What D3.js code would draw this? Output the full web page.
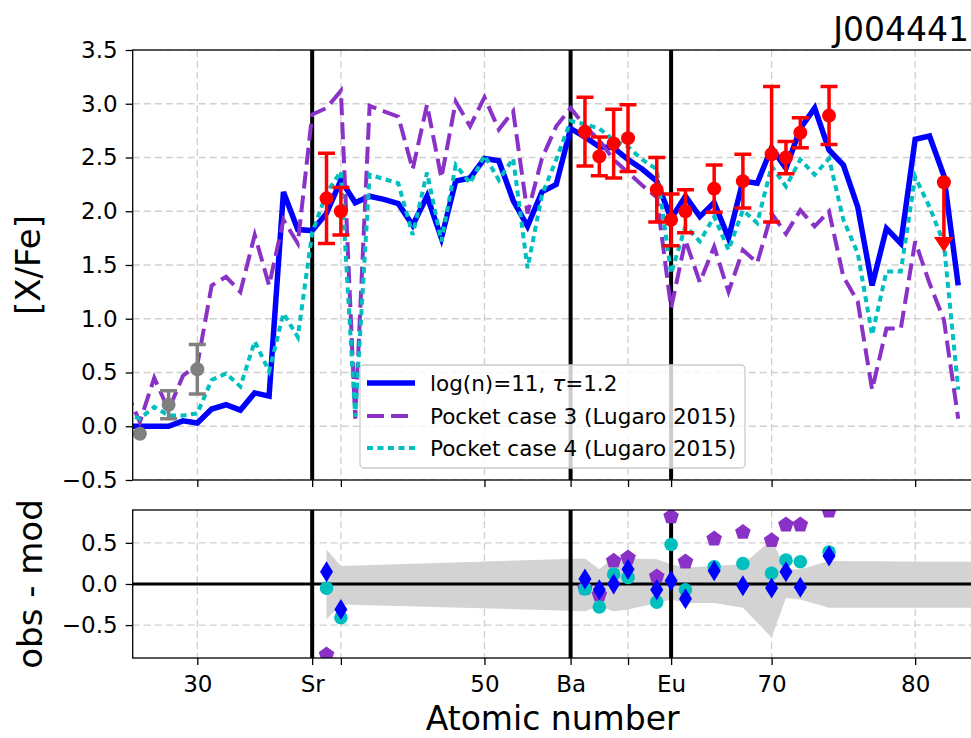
<!DOCTYPE html>
<html>
<head>
<meta charset="utf-8">
<script src="https://cdn.jsdelivr.net/npm/d3@7"></script>
<style>
  body { margin: 0; background: #fff; }
  text { font-family: "DejaVu Sans", sans-serif; fill: #000; }
</style>
</head>
<body>
<svg id="chart" width="971" height="738"></svg>
<script>
// Model predictions, one value per atomic number
var modelZ = [25, 26, 27, 28, 29, 30, 31, 32, 33, 34, 35, 36, 37, 38, 39, 40, 41, 42, 43, 44,
  45, 46, 47, 48, 49, 50, 51, 52, 53, 54, 55, 56, 57, 58, 59, 60, 61, 62, 63, 64,
  65, 66, 67, 68, 69, 70, 71, 72, 73, 74, 75, 76, 77, 78, 79, 80, 81, 82, 83];
var modelBlue = [0.0, 0.0, 0.0, 0.0, 0.05, 0.03, 0.16, 0.2, 0.15, 0.31, 0.28, 2.18, 1.83, 1.82, 1.98, 2.29, 2.08, 2.14, 2.11, 2.07,
  1.87, 2.14, 1.75, 2.28, 2.31, 2.49, 2.47, 2.10, 1.86, 2.18, 2.25, 2.77, 2.69, 2.60, 2.59, 2.48, 2.39, 2.28, 1.93, 2.14,
  1.95, 2.08, 1.75, 2.28, 2.26, 2.59, 2.40, 2.77, 2.96, 2.57, 2.43, 2.04, 1.31, 1.84, 1.70, 2.67, 2.70, 2.33, 1.31];
var modelCase3 = [0.34, 0.04, 0.45, 0.15, 0.47, 0.57, 1.31, 1.39, 1.25, 1.78, 1.31, 1.92, 1.70, 2.90, 2.96, 3.12, 0.07, 2.98, 2.93, 2.88,
  2.39, 2.99, 2.31, 3.02, 2.79, 3.06, 2.76, 2.93, 1.98, 2.49, 2.79, 2.96, 2.79, 2.66, 2.48, 2.36, 2.24, 2.13, 1.10, 1.73,
  1.34, 1.67, 1.25, 1.64, 1.52, 1.98, 1.79, 2.01, 1.86, 2.00, 1.39, 1.16, 0.34, 0.91, 0.91, 1.72, 1.33, 0.99, 0.07];
var modelCase4 = [0.13, 0.07, 0.18, 0.10, 0.10, 0.12, 0.43, 0.49, 0.37, 0.79, 0.51, 1.05, 0.83, 1.80, 2.17, 2.37, 0.09, 2.34, 2.30, 2.26,
  1.78, 2.36, 1.72, 2.43, 2.26, 2.52, 2.29, 2.49, 1.47, 2.15, 2.48, 2.84, 2.81, 2.77, 2.66, 2.60, 2.48, 2.39, 1.42, 1.86,
  1.72, 1.95, 1.64, 2.01, 1.89, 2.42, 2.23, 2.48, 2.34, 2.49, 1.92, 1.61, 0.85, 1.44, 1.44, 2.32, 2.04, 1.70, 0.34];

// Observed abundances used in the fit (red) and not used (grey)
var obsZ = [39, 40, 57, 58, 59, 60, 62, 63, 64, 66, 68, 70, 71, 72, 74];
var obsVal = [2.12, 2.00, 2.74, 2.51, 2.63, 2.68, 2.20, 1.92, 2.00, 2.21, 2.28, 2.53, 2.50, 2.73, 2.89];
var obsErr = [0.42, 0.22, 0.32, 0.18, 0.32, 0.31, 0.30, 0.24, 0.20, 0.22, 0.25, 0.63, 0.15, 0.14, 0.27];
var greyZ = [26, 28, 30];
var greyVal = [-0.07, 0.20, 0.53];
var greyErr = [0, 0.13, 0.23];
var limitZ = [82];
var limitVal = [2.27];
var limitEnd = [1.62];

// Residuals obs - mod
var resBlue = [0.15, -0.31, 0.06, -0.07, 0.0, 0.18, -0.07, 0.04, -0.18, 0.16, -0.02, -0.05, 0.15, -0.04, 0.34];
var resCase4 = [-0.05, -0.41, -0.06, -0.28, 0.12, 0.08, -0.22, 0.48, -0.07, 0.21, 0.25, 0.13, 0.29, 0.27, 0.39];
var resCase3 = [-0.86, -1.12, -0.05, -0.13, 0.28, 0.32, 0.09, 0.82, 0.27, 0.55, 0.63, 0.53, 0.72, 0.72, 0.89];

// Grey uncertainty band in the residual panel
var bandZ = [39, 39, 40, 57, 58, 59, 60, 62, 63, 64, 66, 68, 70, 71, 72, 74, 82, 85];
var bandHi = [0.0, 0.42, 0.22, 0.31, 0.18, 0.32, 0.31, 0.30, 0.24, 0.20, 0.22, 0.24, 0.54, 0.18, 0.18, 0.28, 0.27, 0.27];
var bandLo = [0.0, -0.43, -0.25, -0.33, -0.27, -0.33, -0.31, -0.23, -0.19, -0.23, -0.23, -0.29, -0.65, -0.17, -0.19, -0.29, -0.29, -0.29];

var xTicks = [30, 38, 40, 50, 56, 60, 63, 70, 80];
var xTickLabels = ["30", "Sr", "", "50", "Ba", "", "Eu", "70", "80"];
var markerZ = [38, 56, 63];
var yTopTicks = [-0.5, 0.0, 0.5, 1.0, 1.5, 2.0, 2.5, 3.0, 3.5];
var yBotTicks = [-0.5, 0.0, 0.5];

var legendLabels = ["log(n)=11, ", "Pocket case 3 (Lugaro 2015)", "Pocket case 4 (Lugaro 2015)"];

var svg = d3.select("#chart");
var left = 132.7, right = 972.6;
var topPanel = {top: 50, bottom: 480};
var botPanel = {top: 510, bottom: 658};

var x = d3.scaleLinear().domain([25.5, 84]).range([left, right]);
var yTop = d3.scaleLinear().domain([-0.5, 3.5]).range([topPanel.bottom, topPanel.top]);
var yBot = d3.scaleLinear().domain([-0.9, 0.9]).range([botPanel.bottom, botPanel.top]);

var defs = svg.append("defs");
defs.append("clipPath").attr("id", "clipTop").append("rect")
  .attr("x", left).attr("y", topPanel.top).attr("width", right - left).attr("height", topPanel.bottom - topPanel.top);
defs.append("clipPath").attr("id", "clipBot").append("rect")
  .attr("x", left).attr("y", botPanel.top).attr("width", right - left).attr("height", botPanel.bottom - botPanel.top);

var blue = "#0000ff", purple = "#8a32c8", cyan = "#00bfbf", red = "#ff0000", grey = "#808080";
var gridColor = "#cfcfcf";

function drawGrid(g, y, yTicks, p) {
  g.selectAll(".vgrid").data(xTicks).enter().append("line")
    .attr("x1", function(d) { return x(d); }).attr("x2", function(d) { return x(d); })
    .attr("y1", p.top).attr("y2", p.bottom)
    .attr("stroke", gridColor).attr("stroke-width", 1.3).attr("stroke-dasharray", "7,4");
  g.selectAll(".hgrid").data(yTicks).enter().append("line")
    .attr("x1", left).attr("x2", right)
    .attr("y1", function(d) { return y(d); }).attr("y2", function(d) { return y(d); })
    .attr("stroke", gridColor).attr("stroke-width", 1.3).attr("stroke-dasharray", "7,4");
}

function drawMarkers(g, p) {
  g.selectAll(".zline").data(markerZ).enter().append("line")
    .attr("x1", function(d) { return x(d); }).attr("x2", function(d) { return x(d); })
    .attr("y1", p.top).attr("y2", p.bottom)
    .attr("stroke", "#000").attr("stroke-width", 4);
}

// ---------- top panel ----------
var gTop = svg.append("g").attr("clip-path", "url(#clipTop)");
drawGrid(gTop, yTop, yTopTicks, topPanel);
drawMarkers(gTop, topPanel);

var line = d3.line()
  .x(function(d) { return x(d[0]); })
  .y(function(d) { return yTop(d[1]); });

gTop.append("path").datum(d3.zip(modelZ, modelBlue))
  .attr("d", line).attr("fill", "none").attr("stroke", blue)
  .attr("stroke-width", 5.5).attr("stroke-linejoin", "miter");
gTop.append("path").datum(d3.zip(modelZ, modelCase3))
  .attr("d", line).attr("fill", "none").attr("stroke", purple)
  .attr("stroke-width", 4).attr("stroke-dasharray", "17,7");
gTop.append("path").datum(d3.zip(modelZ, modelCase4))
  .attr("d", line).attr("fill", "none").attr("stroke", cyan)
  .attr("stroke-width", 4).attr("stroke-dasharray", "6,4.5");

function errorBars(g, zs, vals, errs, color) {
  var pts = d3.zip(zs, vals, errs);
  var eb = g.selectAll(null).data(pts).enter().append("g");
  eb.filter(function(d) { return d[2] > 0; }).each(function(d) {
    var s = d3.select(this);
    var cx = x(d[0]);
    s.append("line").attr("x1", cx).attr("x2", cx)
      .attr("y1", yTop(d[1] - d[2])).attr("y2", yTop(d[1] + d[2]))
      .attr("stroke", color).attr("stroke-width", 3.5);
    [d[1] - d[2], d[1] + d[2]].forEach(function(v) {
      s.append("line").attr("x1", cx - 8.5).attr("x2", cx + 8.5)
        .attr("y1", yTop(v)).attr("y2", yTop(v))
        .attr("stroke", color).attr("stroke-width", 3.5);
    });
  });
  eb.append("circle")
    .attr("cx", function(d) { return x(d[0]); })
    .attr("cy", function(d) { return yTop(d[1]); })
    .attr("r", 7).attr("fill", color);
}
errorBars(gTop, greyZ, greyVal, greyErr, grey);
errorBars(gTop, obsZ, obsVal, obsErr, red);

// upper limit
var lim = gTop.selectAll(".limit").data(d3.zip(limitZ, limitVal, limitEnd)).enter().append("g");
lim.append("line")
  .attr("x1", function(d) { return x(d[0]); }).attr("x2", function(d) { return x(d[0]); })
  .attr("y1", function(d) { return yTop(d[1]); }).attr("y2", function(d) { return yTop(d[2]) - 10; })
  .attr("stroke", red).attr("stroke-width", 3.5);
lim.append("path")
  .attr("d", function(d) {
    var cx = x(d[0]), ty = yTop(d[2]);
    return "M" + (cx - 10) + "," + (ty - 15) + "L" + (cx + 10) + "," + (ty - 15) + "L" + cx + "," + ty + "Z";
  })
  .attr("fill", red);
lim.append("circle")
  .attr("cx", function(d) { return x(d[0]); })
  .attr("cy", function(d) { return yTop(d[1]); })
  .attr("r", 7).attr("fill", red);

// legend
var legend = svg.append("g");
legend.append("rect")
  .attr("x", 360).attr("y", 365).attr("width", 385).attr("height", 103).attr("rx", 4)
  .attr("fill", "#fff").attr("fill-opacity", 0.8)
  .attr("stroke", "#cccccc").attr("stroke-width", 1.3);
var legStyles = [
  {color: blue, width: 5.5, dash: null},
  {color: purple, width: 4, dash: "17,7"},
  {color: cyan, width: 4, dash: "6,4.5"}
];
var legRows = [383, 416, 448];
legendLabels.forEach(function(lbl, i) {
  legend.append("line")
    .attr("x1", 367).attr("x2", 415).attr("y1", legRows[i]).attr("y2", legRows[i])
    .attr("stroke", legStyles[i].color).attr("stroke-width", legStyles[i].width)
    .attr("stroke-dasharray", legStyles[i].dash);
  var t = legend.append("text")
    .attr("x", 430).attr("y", legRows[i]).attr("dy", "0.36em")
    .style("font-size", "21.5px").text(lbl);
  if (i === 0) {
    t.append("tspan").style("font-style", "italic").text("\u03c4");
    t.append("tspan").text("=1.2");
  }
});

// ---------- bottom panel ----------
var gBot = svg.append("g").attr("clip-path", "url(#clipBot)");
drawGrid(gBot, yBot, yBotTicks, botPanel);

var area = d3.area()
  .x(function(d) { return x(d[0]); })
  .y0(function(d) { return yBot(d[2]); })
  .y1(function(d) { return yBot(d[1]); });
gBot.append("path").datum(d3.zip(bandZ, bandHi, bandLo))
  .attr("d", area).attr("fill", "#d3d3d3");

drawMarkers(gBot, botPanel);
gBot.append("line")
  .attr("x1", left).attr("x2", right).attr("y1", yBot(0)).attr("y2", yBot(0))
  .attr("stroke", "#000").attr("stroke-width", 3);

function pentagon(r) {
  var pts = [];
  for (var k = 0; k < 5; k++) {
    var a = -Math.PI / 2 + k * 2 * Math.PI / 5;
    pts.push([r * Math.cos(a), r * Math.sin(a)]);
  }
  return "M" + pts.join("L") + "Z";
}
gBot.selectAll(".p3").data(d3.zip(obsZ, resCase3)).enter().append("path")
  .attr("d", pentagon(8.2))
  .attr("transform", function(d) { return "translate(" + x(d[0]) + "," + yBot(d[1]) + ")"; })
  .attr("fill", purple);
gBot.selectAll(".p4").data(d3.zip(obsZ, resCase4)).enter().append("circle")
  .attr("cx", function(d) { return x(d[0]); })
  .attr("cy", function(d) { return yBot(d[1]); })
  .attr("r", 6.8).attr("fill", cyan);
gBot.selectAll(".pb").data(d3.zip(obsZ, resBlue)).enter().append("path")
  .attr("d", "M0,-10.5L6.5,0L0,10.5L-6.5,0Z")
  .attr("transform", function(d) { return "translate(" + x(d[0]) + "," + yBot(d[1]) + ")"; })
  .attr("fill", blue);

// ---------- axes & frames ----------
function frame(p) {
  svg.append("rect")
    .attr("x", left).attr("y", p.top).attr("width", right - left).attr("height", p.bottom - p.top)
    .attr("fill", "none").attr("stroke", "#000").attr("stroke-width", 1.3);
}
frame(topPanel);
frame(botPanel);

function styleAxis(g) {
  g.select(".domain").remove();
  g.selectAll(".tick line").attr("stroke-width", 1.3);
  g.selectAll(".tick text").style("font-size", "23px").style("font-family", "DejaVu Sans");
}

svg.append("g").attr("transform", "translate(" + left + ",0)")
  .call(d3.axisLeft(yTop).tickValues(yTopTicks).tickSize(7).tickPadding(8).tickFormat(d3.format(".1f")))
  .call(styleAxis);
svg.append("g").attr("transform", "translate(" + left + ",0)")
  .call(d3.axisLeft(yBot).tickValues(yBotTicks).tickSize(7).tickPadding(8).tickFormat(d3.format(".1f")))
  .call(styleAxis);
svg.append("g").attr("transform", "translate(0," + topPanel.bottom + ")")
  .call(d3.axisBottom(x).tickValues(xTicks).tickSize(7).tickFormat(""))
  .call(styleAxis);
svg.append("g").attr("transform", "translate(0," + botPanel.bottom + ")")
  .call(d3.axisBottom(x).tickValues(xTicks).tickSize(7).tickPadding(11)
    .tickFormat(function(d, i) { return xTickLabels[i]; }))
  .call(styleAxis);

svg.append("text")
  .attr("transform", "translate(40," + (topPanel.top + topPanel.bottom) / 2 + ") rotate(-90)")
  .attr("text-anchor", "middle").style("font-size", "34px").text("[X/Fe]");
svg.append("text")
  .attr("transform", "translate(42," + (botPanel.top + botPanel.bottom) / 2 + ") rotate(-90)")
  .attr("text-anchor", "middle").style("font-size", "34px").text("obs - mod");
svg.append("text")
  .attr("x", (left + right) / 2).attr("y", 730)
  .attr("text-anchor", "middle").style("font-size", "33px").text("Atomic number");
svg.append("text")
  .attr("x", 969).attr("y", 41)
  .attr("text-anchor", "end").style("font-size", "33px").text("J004441");
</script>
</body>
</html>
